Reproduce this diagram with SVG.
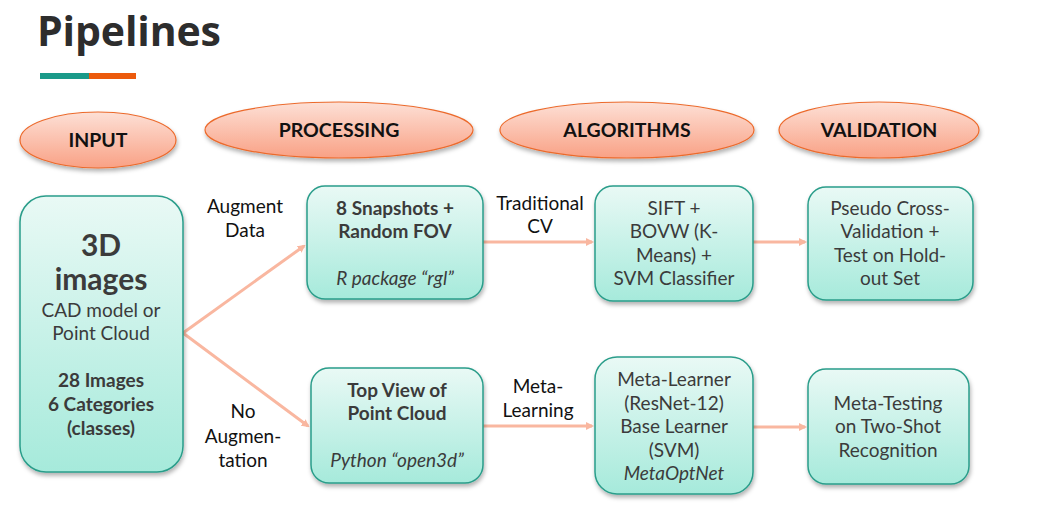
<svg xmlns="http://www.w3.org/2000/svg" width="1038" height="519" viewBox="0 0 1038 519">
<defs>
<linearGradient id="gOval" x1="0" y1="0" x2="0" y2="1"><stop offset="0" stop-color="#fde0d6"/><stop offset="1" stop-color="#f9a185"/></linearGradient>
<linearGradient id="gBox" x1="0" y1="0" x2="0" y2="1"><stop offset="0" stop-color="#e9f9f5"/><stop offset="1" stop-color="#a6eadb"/></linearGradient>
<filter id="sh" x="-20%" y="-20%" width="140%" height="150%"><feDropShadow dx="1" dy="3" stdDeviation="2" flood-color="#000" flood-opacity="0.3"/></filter>
<marker id="ah" markerWidth="8" markerHeight="8" refX="6" refY="4" orient="auto" markerUnits="userSpaceOnUse" viewBox="0 0 8 8"><path d="M0,0 L8,4 L0,8 z" fill="#f9b7a0"/></marker>
</defs>
<style>
.oval{fill:url(#gOval);stroke:#ec6a2c;stroke-width:1.2;filter:url(#sh)}
.box{fill:url(#gBox);stroke:#2a9d8a;stroke-width:1.5;filter:url(#sh)}
.oh{font-family:Lato,'Liberation Sans',sans-serif;font-weight:bold;font-size:19.5px;fill:#111;text-anchor:middle}
.t{font-family:Lato,'Liberation Sans',sans-serif;font-size:19px;fill:#3b3b3b;text-anchor:middle}
.b{font-weight:bold}
.i{font-style:italic}
.lbl{font-family:Lato,'Liberation Sans',sans-serif;font-size:19px;fill:#111;text-anchor:middle}
.c{fill:none;stroke:#f9b7a0;stroke-width:3;marker-end:url(#ah)}
</style>
<rect width="1038" height="519" fill="#fff"/>
<g id="title">
<text x="37" y="46" font-family="'Open Sans',Lato,'Liberation Sans',sans-serif" font-weight="bold" font-size="41" fill="#2d2d2d" textLength="184" lengthAdjust="spacing">Pipelines</text>
<rect x="40" y="73" width="49" height="6" fill="#1a9a89"/>
<rect x="89" y="73" width="47" height="6" fill="#ec5a0c"/>
</g>
<g id="h-input"><ellipse class="oval" cx="98" cy="140" rx="78" ry="28"/><text class="oh" x="98" y="147">INPUT</text></g>
<g id="h-processing"><ellipse class="oval" cx="339" cy="130" rx="134" ry="28"/><text class="oh" x="339" y="137">PROCESSING</text></g>
<g id="h-algorithms"><ellipse class="oval" cx="627" cy="130" rx="127" ry="28"/><text class="oh" x="627" y="137">ALGORITHMS</text></g>
<g id="h-validation"><ellipse class="oval" cx="879" cy="130" rx="100" ry="28"/><text class="oh" x="879" y="137">VALIDATION</text></g>
<g id="connectors">
<path class="c" d="M183,333 L304,246"/>
<path class="c" d="M183,333 L308,426"/>
<path class="c" d="M483,242 L592,242"/>
<path class="c" d="M753,242 L805,242"/>
<path class="c" d="M483,426 L592,426"/>
<path class="c" d="M753,427 L805,427"/>
<text class="lbl" x="245" y="213">Augment</text>
<text class="lbl" x="245" y="237">Data</text>
<text class="lbl" x="540" y="210">Traditional</text>
<text class="lbl" x="540" y="233">CV</text>
<text class="lbl" x="243" y="418">No</text>
<text class="lbl" x="243" y="443">Augmen-</text>
<text class="lbl" x="243" y="467">tation</text>
<text class="lbl" x="538" y="393">Meta-</text>
<text class="lbl" x="538" y="417">Learning</text>
</g>
<g id="n-3d">
<rect class="box" x="20" y="196" width="163" height="276" rx="26"/>
<text class="t b" x="101" y="256" style="font-size:30px">3D</text>
<text class="t b" x="101" y="290" style="font-size:30px">images</text>
<text class="t" x="101" y="317">CAD model or</text>
<text class="t" x="101" y="340">Point Cloud</text>
<text class="t b" x="101" y="387">28 Images</text>
<text class="t b" x="101" y="411">6 Categories</text>
<text class="t b" x="101" y="435">(classes)</text>
</g>
<g id="n-snap">
<rect class="box" x="307" y="186" width="176" height="113" rx="18"/>
<text class="t b" x="395" y="215">8 Snapshots +</text>
<text class="t b" x="395" y="238">Random FOV</text>
<text class="t i" x="395" y="285">R package “rgl”</text>
</g>
<g id="n-top">
<rect class="box" x="311" y="368" width="172" height="115" rx="18"/>
<text class="t b" x="397" y="397">Top View of</text>
<text class="t b" x="397" y="420">Point Cloud</text>
<text class="t i" x="397" y="467">Python “open3d”</text>
</g>
<g id="n-sift">
<rect class="box" x="595" y="186" width="158" height="115" rx="18"/>
<text class="t" x="674" y="215">SIFT +</text>
<text class="t" x="674" y="238">BOVW (K-</text>
<text class="t" x="674" y="262">Means) +</text>
<text class="t" x="674" y="285">SVM Classifier</text>
</g>
<g id="n-pseudo">
<rect class="box" x="808" y="187" width="165" height="113" rx="18"/>
<text class="t" x="890" y="215">Pseudo Cross-</text>
<text class="t" x="890" y="238">Validation +</text>
<text class="t" x="890" y="262">Test on Hold-</text>
<text class="t" x="890" y="285">out Set</text>
</g>
<g id="n-meta">
<rect class="box" x="595" y="357" width="158" height="137" rx="22"/>
<text class="t" x="674" y="386">Meta-Learner</text>
<text class="t" x="674" y="410">(ResNet-12)</text>
<text class="t" x="674" y="433">Base Learner</text>
<text class="t" x="674" y="457">(SVM)</text>
<text class="t i" x="674" y="480">MetaOptNet</text>
</g>
<g id="n-mtest">
<rect class="box" x="808" y="369" width="161" height="115" rx="18"/>
<text class="t" x="888" y="410">Meta-Testing</text>
<text class="t" x="888" y="433">on Two-Shot</text>
<text class="t" x="888" y="457">Recognition</text>
</g>
</svg>
